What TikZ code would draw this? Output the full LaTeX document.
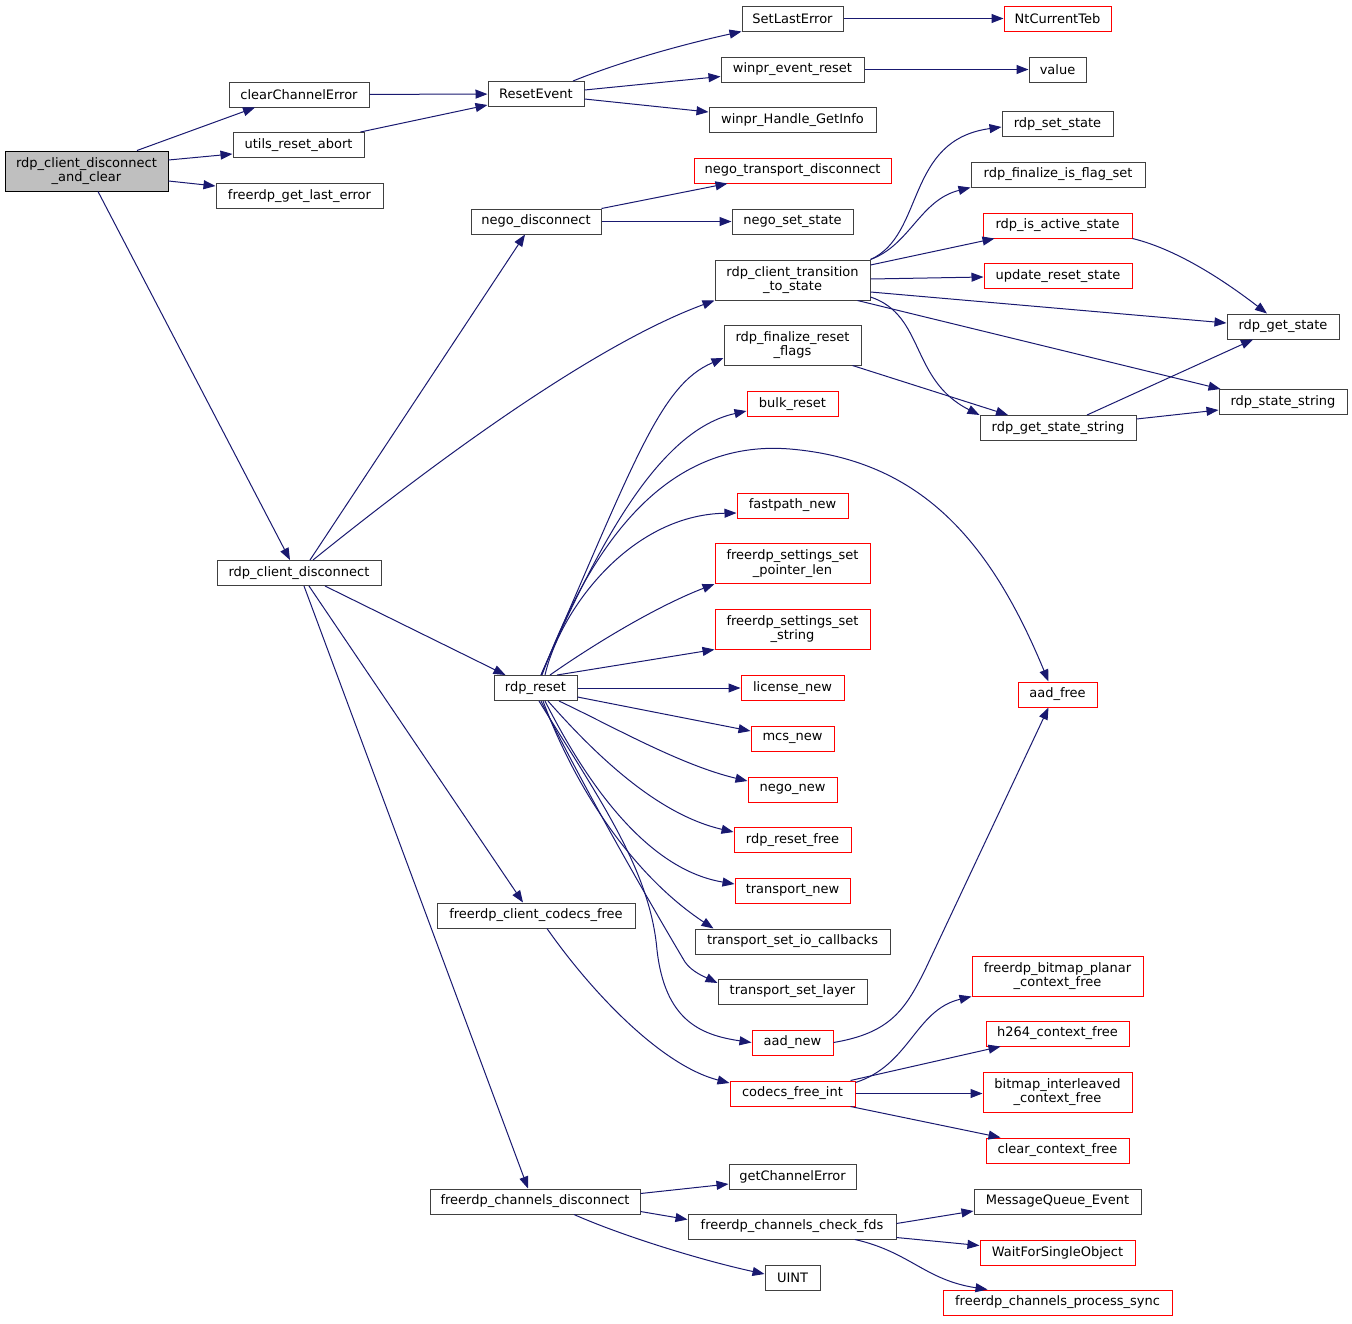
\documentclass[tikz,border=0pt]{standalone}
\usepackage{fontspec}
\setmainfont{DejaVu Sans}
\usetikzlibrary{arrows.meta}
\definecolor{midnight}{RGB}{25,25,112}
\definecolor{boxgray}{RGB}{64,64,64}
\tikzset{
  box/.style={draw=boxgray, fill=white, line width=1pt, inner sep=0pt, align=center,
    minimum height=25pt, font=\fontsize{13}{14.5}\selectfont},
  redbox/.style={box, draw=red},
  rootbox/.style={box, draw=black, fill=black!25},
  edge/.style={draw=midnight, line width=1pt, -{Triangle[length=12pt,width=9pt]}}
}
\begin{document}
\begin{tikzpicture}[x=1pt,y=-1pt]
\useasboundingbox (0,0) rectangle (1352,1323);
% nodes
\node[rootbox, minimum width=163pt, minimum height=40pt] (root) at (86.5,171) {rdp\_client\_disconnect\\\_and\_clear};
\node[box, minimum width=140pt] (clearCE) at (299,94.5) {clearChannelError};
\node[box, minimum width=131pt] (utils) at (298.5,145) {utils\_reset\_abort};
\node[box, minimum width=167pt] (lasterr) at (299.5,196) {freerdp\_get\_last\_error};
\node[box, minimum width=96pt] (resetev) at (536,94) {ResetEvent};
\node[box, minimum width=101pt] (setlast) at (792.5,18.5) {SetLastError};
\node[redbox, minimum width=107pt] (ntteb) at (1057.5,18.5) {NtCurrentTeb};
\node[box, minimum width=143pt] (evreset) at (792.5,69.5) {winpr\_event\_reset};
\node[box, minimum width=57pt] (value) at (1057.5,69.5) {value};
\node[box, minimum width=167pt] (getinfo) at (792.5,120) {winpr\_Handle\_GetInfo};
\node[redbox, minimum width=197pt] (ntd) at (792.5,170.5) {nego\_transport\_disconnect};
\node[box, minimum width=130pt] (negodisc) at (536,221.5) {nego\_disconnect};
\node[box, minimum width=121pt] (negoset) at (792.5,221.5) {nego\_set\_state};
\node[box, minimum width=111pt] (setstate) at (1057.5,124) {rdp\_set\_state};
\node[box, minimum width=174pt] (isflag) at (1058,174.5) {rdp\_finalize\_is\_flag\_set};
\node[redbox, minimum width=149pt] (isactive) at (1057.5,225.5) {rdp\_is\_active\_state};
\node[redbox, minimum width=148pt] (updreset) at (1058,276) {update\_reset\_state};
\node[box, minimum width=155pt, minimum height=40pt] (trans) at (792.5,280) {rdp\_client\_transition\\\_to\_state};
\node[box, minimum width=112pt] (getstate) at (1283,326.5) {rdp\_get\_state};
\node[box, minimum width=137pt, minimum height=40pt] (flags) at (792.5,345) {rdp\_finalize\_reset\\\_flags};
\node[redbox, minimum width=91pt] (bulk) at (792.5,404) {bulk\_reset};
\node[box, minimum width=128pt] (statestr) at (1283,402) {rdp\_state\_string};
\node[box, minimum width=156pt] (getstatestr) at (1058,428) {rdp\_get\_state\_string};
\node[redbox, minimum width=111pt] (fastpath) at (792.5,505.5) {fastpath\_new};
\node[redbox, minimum width=155pt, minimum height=40pt] (ptrlen) at (792.5,563.5) {freerdp\_settings\_set\\\_pointer\_len};
\node[redbox, minimum width=155pt, minimum height=40pt] (setstr) at (792.5,629) {freerdp\_settings\_set\\\_string};
\node[box, minimum width=164pt] (clientdisc) at (299,573) {rdp\_client\_disconnect};
\node[box, minimum width=83pt] (rdpreset) at (535.5,688) {rdp\_reset};
\node[redbox, minimum width=103pt] (license) at (792.5,688) {license\_new};
\node[redbox, minimum width=79pt] (aadfree) at (1057.5,694.5) {aad\_free};
\node[redbox, minimum width=83pt] (mcs) at (792.5,738.5) {mcs\_new};
\node[redbox, minimum width=89pt] (negonew) at (792.5,789.5) {nego\_new};
\node[redbox, minimum width=117pt] (resetfree) at (792.5,840) {rdp\_reset\_free};
\node[redbox, minimum width=115pt] (tnew) at (792.5,890.5) {transport\_new};
\node[box, minimum width=198pt] (codecsfree) at (536,915.5) {freerdp\_client\_codecs\_free};
\node[box, minimum width=195pt] (tio) at (792.5,941.5) {transport\_set\_io\_callbacks};
\node[box, minimum width=149pt] (tlayer) at (792.5,991.5) {transport\_set\_layer};
\node[redbox, minimum width=171pt, minimum height=40pt] (planar) at (1057.5,976) {freerdp\_bitmap\_planar\\\_context\_free};
\node[redbox, minimum width=81pt] (aadnew) at (792.5,1042.5) {aad\_new};
\node[redbox, minimum width=143pt] (h264) at (1057.5,1033.5) {h264\_context\_free};
\node[redbox, minimum width=125pt] (cfi) at (792.5,1093.5) {codecs\_free\_int};
\node[redbox, minimum width=149pt, minimum height=40pt] (interleaved) at (1057.5,1092) {bitmap\_interleaved\\\_context\_free};
\node[redbox, minimum width=143pt] (clearctx) at (1057.5,1150.5) {clear\_context\_free};
\node[box, minimum width=127pt] (getchan) at (792.5,1176.5) {getChannelError};
\node[box, minimum width=210pt] (chdisc) at (535,1201.5) {freerdp\_channels\_disconnect};
\node[box, minimum width=208pt] (checkfds) at (792,1226.5) {freerdp\_channels\_check\_fds};
\node[box, minimum width=167pt] (mqevent) at (1057.5,1201.5) {MessageQueue\_Event};
\node[redbox, minimum width=155pt] (wait) at (1057.5,1252.5) {WaitForSingleObject};
\node[box, minimum width=55pt] (uint) at (792.5,1277.5) {UINT};
\node[redbox, minimum width=229pt] (procsync) at (1057.5,1302.5) {freerdp\_channels\_process\_sync};
% edges
\draw[edge] ([xshift=50.5pt]root.north) -- ([xshift=-44pt]clearCE.south);
\draw[edge] ([yshift=11pt]root.east) -- ([yshift=-9pt]utils.west);
\draw[edge] ([yshift=-10pt]root.east) -- ([yshift=10pt]lasterr.west);
\draw[edge] ([xshift=11.5pt]root.south) -- ([xshift=-9pt]clientdisc.north);
\draw[edge] (clearCE) -- (resetev);
\draw[edge] ([xshift=62pt]utils.north) -- ([yshift=-11pt]resetev.west);
\draw[edge] ([xshift=37pt]resetev.north) .. controls (620,62) and (680,45) .. (setlast.south west);
\draw[edge] ([yshift=4pt]resetev.east) -- ([yshift=-7pt]evreset.west);
\draw[edge] ([yshift=-5pt]resetev.east) -- ([yshift=8pt]getinfo.west);
\draw[edge] (setlast) -- (ntteb);
\draw[edge] (evreset) -- (value);
\draw[edge] (negodisc.north east) -- ([xshift=-65pt]ntd.south);
\draw[edge] (negodisc) -- (negoset);
\draw[edge] ([xshift=11pt]clientdisc.north) -- ([xshift=-11pt]negodisc.south);
\draw[edge] ([xshift=14pt]clientdisc.north) .. controls (400,490) and (580,350) .. (trans.south west);
\draw[edge] ([xshift=26pt]clientdisc.south) -- ([xshift=-30pt]rdpreset.north);
\draw[edge] ([xshift=10pt]clientdisc.south) -- ([xshift=-13pt]codecsfree.north);
\draw[edge] ([xshift=5pt]clientdisc.south) -- ([xshift=-7pt]chdisc.north);
% transition
\draw[edge] (trans.north east) .. controls (925,235) and (905,140) .. ([yshift=-3pt]setstate.west);
\draw[edge] (trans.north east) .. controls (910,245) and (920,200) .. (isflag.south west);
\draw[edge] ([yshift=15pt]trans.east) -- ([xshift=-63pt]isactive.south);
\draw[edge] ([yshift=1pt]trans.east) -- ([yshift=-1pt]updreset.west);
\draw[edge] ([yshift=-12pt]trans.east) -- ([yshift=3.5pt]getstate.west);
\draw[edge] ([xshift=65pt]trans.south) -- ([xshift=2pt]statestr.north west);
\draw[edge] ([yshift=-17pt]trans.east) .. controls (925,315) and (910,380) .. (getstatestr.north west);
\draw[edge] (isactive.south east) .. controls (1180,250) and (1230,285) .. ([xshift=-16pt]getstate.north);
\draw[edge] ([xshift=60pt]flags.south) -- ([xshift=-50pt]getstatestr.north);
\draw[edge] ([xshift=29pt]getstatestr.north) -- ([xshift=-30pt]getstate.south);
\draw[edge] ([yshift=9pt]getstatestr.east) -- ([yshift=-8pt]statestr.west);
% rdp_reset fan
\draw[edge] ([xshift=5.5pt]rdpreset.north) .. controls (635,460) and (660,385) .. ([yshift=-13pt]flags.west);
\draw[edge] ([xshift=5.5pt]rdpreset.north) .. controls (600,540) and (660,430) .. ([yshift=-7pt]bulk.west);
\draw[edge] ([xshift=6.5pt]rdpreset.north) .. controls (600,520) and (680,440) .. (790,449) .. controls (920,460) and (990,540) .. ([xshift=-9pt]aadfree.north);
\draw[edge] ([xshift=9.5pt]rdpreset.north) .. controls (560,610) and (630,515) .. ([yshift=-7.5pt]fastpath.west);
\draw[edge] ([xshift=14.5pt]rdpreset.north) .. controls (600,640) and (660,605) .. (ptrlen.south west);
\draw[edge] ([xshift=21.5pt]rdpreset.north) -- (setstr.south west);
\draw[edge] (rdpreset) -- (license);
\draw[edge] ([yshift=-9pt]rdpreset.east) -- ([yshift=7.5pt]mcs.west);
\draw[edge] ([xshift=23.5pt]rdpreset.south) .. controls (610,725) and (680,765) .. ([yshift=8.5pt]negonew.west);
\draw[edge] ([xshift=12.5pt]rdpreset.south) .. controls (600,760) and (660,815) .. ([yshift=8pt]resetfree.west);
\draw[edge] ([xshift=9.5pt]rdpreset.south) .. controls (590,790) and (650,870) .. ([yshift=6.5pt]tnew.west);
\draw[edge] ([xshift=7.5pt]rdpreset.south) .. controls (580,800) and (640,880) .. ([xshift=-79pt]tio.north);
\draw[edge] ([xshift=5.5pt]rdpreset.south) .. controls (590,800) and (660,920) .. (685,962) .. controls (692,972) and (705,977) .. ([yshift=8.5pt]tlayer.west);
\draw[edge] ([xshift=3.5pt]rdpreset.south) .. controls (600,800) and (650,870) .. (657,950) .. controls (665,1020) and (700,1035) .. (aadnew.west);
\draw[edge] (aadnew.east) .. controls (890,1033) and (905,1010) .. (925,970) -- ([xshift=-9pt]aadfree.south);
% codecs
\draw[edge] ([xshift=11pt]codecsfree.south) .. controls (590,990) and (660,1065) .. ([yshift=10.5pt]cfi.west);
\draw[edge] ([yshift=11pt]cfi.east) .. controls (910,1065) and (915,1010) .. (planar.south west);
\draw[edge] ([xshift=58pt]cfi.north) -- ([xshift=-57pt]h264.south);
\draw[edge] (cfi.east) -- ([yshift=-1.5pt]interleaved.west);
\draw[edge] ([xshift=58pt]cfi.south) -- ([xshift=-57pt]clearctx.north);
% channels
\draw[edge] ([yshift=8pt]chdisc.east) -- ([yshift=-7.5pt]getchan.west);
\draw[edge] ([yshift=-10pt]chdisc.east) -- ([yshift=7pt]checkfds.west);
\draw[edge] ([xshift=39pt]chdisc.south) .. controls (620,1235) and (700,1260) .. ([yshift=3.5pt]uint.west);
\draw[edge] ([yshift=3pt]checkfds.east) -- ([yshift=-9.5pt]mqevent.west);
\draw[edge] ([yshift=-11pt]checkfds.east) -- ([yshift=7pt]wait.west);
\draw[edge] ([xshift=63pt]checkfds.south) .. controls (910,1252) and (925,1280) .. ([xshift=-70pt]procsync.north);
\end{tikzpicture}
\end{document}
